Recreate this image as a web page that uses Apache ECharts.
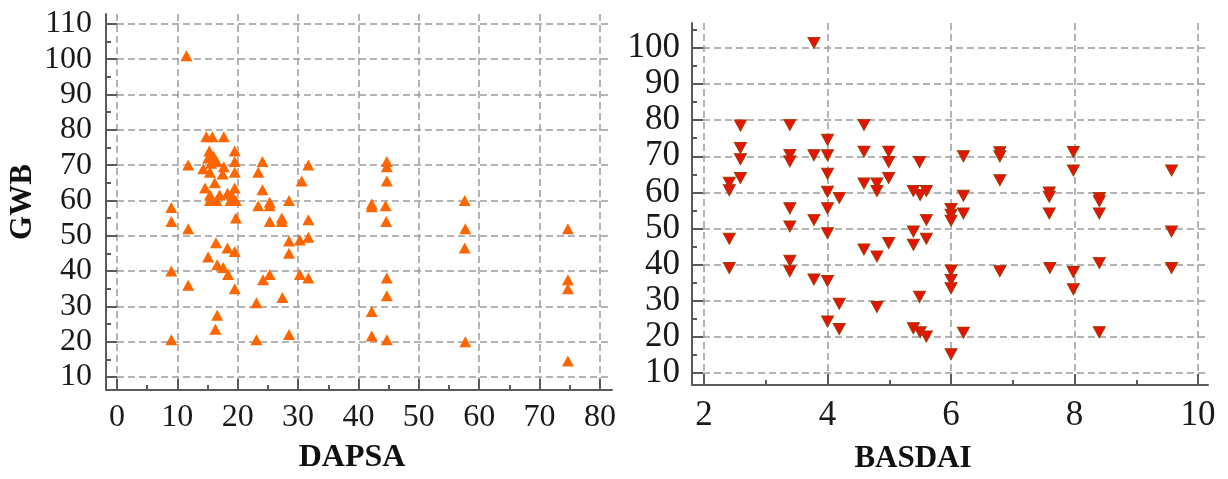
<!DOCTYPE html>
<html>
<head>
<meta charset="utf-8">
<script src="https://cdn.jsdelivr.net/npm/echarts@6/dist/echarts.min.js"></script>
<style>
  html, body { margin: 0; padding: 0; background: #fff; }
  #chart { width: 1228px; height: 479px; }
</style>
</head>
<body>
<div id="chart"></div>
<script>
  // DAPSA vs GWB (left panel)
  const dapsaX = [11.5, 9, 9, 9, 9, 11.8, 11.8, 11.8, 14.8, 15.8, 17.7,
    15.3, 15.1, 15.6, 14.3, 15.4, 16, 16.5, 17.7, 17.5, 19.5, 19.5, 19.5,
    14.6, 16.2, 15.4, 16.5, 15.4, 19.5, 19, 18.8, 19.7, 18.3, 17, 19.7,
    23.4, 24.1, 24.1, 23.4, 25.3, 25.3, 28.5, 25.3, 27.3, 27.3,
    31.7, 30.6, 31.7, 31.7, 30.3, 28.5, 28.5,
    16.4, 18.3, 19.5, 15.1, 16.6, 17.6, 18.4, 19.5,
    24.2, 25.3, 30.3, 31.7, 27.4, 23.1, 16.6, 16.3, 23.1, 28.5,
    44.7, 44.7, 44.7, 42.2, 42.2, 44.5, 44.6, 44.7, 44.7, 42.2, 42.2, 44.7,
    57.6, 57.7, 57.6, 57.7, 74.7, 74.7, 74.7, 74.7];
  const dapsaGwb = [101, 58, 54, 40, 20.5, 70, 52, 36, 78, 78, 78,
    74, 72, 70.5, 69, 68, 72.5, 71, 69.5, 67.5, 74, 71, 68,
    63.5, 65, 61.5, 60, 60, 63.5, 61.5, 60, 60, 62, 61.5, 55,
    68, 71, 63, 58.5, 59.5, 58.5, 60, 54, 54, 55,
    70, 65.5, 54.5, 49.6, 48.8, 48.5, 45,
    48, 46.5, 45.5, 44, 41.8, 41, 39, 35,
    37.5, 39, 39, 38, 32.5, 31, 27.5, 23.5, 20.5, 22,
    71, 69.5, 65.5, 59, 58.2, 58.5, 54, 38, 33, 28.5, 21.6, 20.5,
    60, 52, 46.5, 20, 52, 37.5, 35, 14.5];

  // BASDAI vs GWB (right panel)
  const basdaiX = [2.41, 2.41, 2.41, 2.41, 2.59, 2.59, 2.59, 2.59,
    3.39, 3.39, 3.39, 3.39, 3.39, 3.39, 3.39, 3.78, 3.78, 3.78, 3.78,
    4, 4, 4, 4, 4, 4, 4, 4, 4.19, 4.19, 4.19,
    4.59, 4.59, 4.59, 4.59, 4.8, 4.8, 4.8, 4.8, 4.99, 4.99, 4.99, 4.99,
    5.39, 5.39, 5.39, 5.39, 5.49, 5.5, 5.49, 5.5, 5.6, 5.6, 5.6, 5.6,
    6, 6, 6, 6, 6, 6, 6, 6.2, 6.2, 6.2, 6.2,
    6.79, 6.79, 6.79, 6.79, 7.59, 7.59, 7.59, 7.6,
    7.98, 7.98, 7.98, 7.98, 8.4, 8.4, 8.4, 8.4, 8.4, 9.57, 9.57, 9.57];
  const basdaiGwb = [62.7, 60.6, 47.2, 39.1, 78.5, 72.3, 69.2, 64,
    78.7, 70.4, 68.6, 55.6, 50.6, 41.1, 38.2, 101.4, 70.3, 52.4, 35.9,
    74.6, 70.3, 65.2, 60.2, 55.6, 48.7, 35.5, 24.3, 58.5, 29.2, 22.2,
    78.7, 71.3, 62.5, 44.2, 62.5, 60.4, 42.3, 28.3, 71.3, 68.4, 64, 46,
    60.4, 49.2, 45.5, 22.4, 68.4, 59.3, 31.1, 21.3, 60.4, 52.4, 47.2, 20.1,
    55.4, 53.8, 52.2, 38.4, 35.8, 33.5, 15.2, 70, 59.1, 54.2, 21.2,
    71.1, 70, 63.4, 38.2, 60, 58.8, 54.2, 39.1,
    71.2, 66.1, 38, 33.2, 58.5, 57.6, 54.2, 40.5, 21.3, 66.1, 49.2, 39.1];

  // tick values
  const dapsaTicks = [0, 10, 20, 30, 40, 50, 60, 70, 80];
  const dapsaMinor = [5, 15, 25, 35, 45, 55, 65, 75];
  const gwbTicksLeft = [10, 20, 30, 40, 50, 60, 70, 80, 90, 100, 110];
  const gwbMinorLeft = [15, 25, 35, 45, 55, 65, 75, 85, 95, 105];
  const basdaiTicks = [2, 4, 6, 8, 10];
  const basdaiMinor = [3, 5, 7, 9];
  const gwbTicksRight = [10, 20, 30, 40, 50, 60, 70, 80, 90, 100];
  const gwbMinorRight = [15, 25, 35, 45, 55, 65, 75, 85, 95, 105];

  const zip = (xs, ys) => xs.map((x, i) => [x, ys[i]]);

  const serif = 'Liberation Serif';
  const axisColor = '#5a5a5a';
  const gridLine = { show: true, lineStyle: { color: '#9c9c9c', width: 1.5, type: [7, 4] } };

  // main axis: line, major ticks, labels, grid lines
  function mainAxis(grid, min, max, ticks, fontSize, margin, extra) {
    return Object.assign({
      type: 'value', gridIndex: grid, min: min, max: max,
      axisLine: { show: true, onZero: false, lineStyle: { color: axisColor, width: 2 } },
      axisTick: { show: true, inside: true, length: 11, customValues: ticks,
        lineStyle: { color: axisColor, width: 2 } },
      axisLabel: { customValues: ticks, fontFamily: serif, fontSize: fontSize,
        color: '#1a1a1a', margin: margin },
      splitLine: gridLine
    }, extra);
  }
  // second axis only for the short in-between ticks
  function minorAxis(grid, min, max, ticks, position) {
    return {
      type: 'value', gridIndex: grid, min: min, max: max, position: position,
      axisLine: { show: false, onZero: false },
      axisTick: { show: true, inside: true, length: 5, customValues: ticks,
        lineStyle: { color: axisColor, width: 2 } },
      axisLabel: { show: false },
      splitLine: { show: false }
    };
  }

  const nameStyle = (size, pad) => ({ fontFamily: serif, fontWeight: 'bold', fontSize: size,
    color: '#111', padding: pad });

  const chart = echarts.init(document.getElementById('chart'));
  chart.setOption({
    animation: false,
    backgroundColor: '#fff',
    grid: [
      { left: 106, right: 616, top: 14, bottom: 89 },
      { left: 692, right: 20, top: 23, bottom: 91 }
    ],
    xAxis: [
      mainAxis(0, -1.82, 82, dapsaTicks, 32, 12, { position: 'bottom',
        name: 'DAPSA', nameLocation: 'middle', nameGap: 52, nameTextStyle: nameStyle(32, [0, 14, 0, 0]) }),
      minorAxis(0, -1.82, 82, dapsaMinor, 'bottom'),
      mainAxis(1, 1.806, 10.16, basdaiTicks, 35, 13, { position: 'bottom',
        name: 'BASDAI', nameLocation: 'middle', nameGap: 58, nameTextStyle: nameStyle(31, [0, 74, 0, 0]) }),
      minorAxis(1, 1.806, 10.16, basdaiMinor, 'bottom')
    ],
    yAxis: [
      mainAxis(0, 6.3, 112.8, gwbTicksLeft, 32, 14, { position: 'left',
        name: 'GWB', nameLocation: 'middle', nameGap: 68, nameTextStyle: nameStyle(31, 0) }),
      minorAxis(0, 6.3, 112.8, gwbMinorLeft, 'left'),
      mainAxis(1, 6.7, 106.9, gwbTicksRight, 35, 12, { position: 'left' }),
      minorAxis(1, 6.7, 106.9, gwbMinorRight, 'left')
    ],
    series: [
      {
        type: 'scatter', xAxisIndex: 0, yAxisIndex: 0,
        symbol: 'triangle', symbolSize: [12, 11],
        itemStyle: { color: '#ff6600', opacity: 1 },
        data: zip(dapsaX, dapsaGwb)
      },
      {
        type: 'scatter', xAxisIndex: 2, yAxisIndex: 2,
        symbol: 'triangle', symbolSize: [12, 11], symbolRotate: 180,
        itemStyle: { color: '#e81200', borderColor: '#a03a00', borderWidth: 1, opacity: 1 },
        data: zip(basdaiX, basdaiGwb)
      }
    ]
  });
</script>
</body>
</html>
